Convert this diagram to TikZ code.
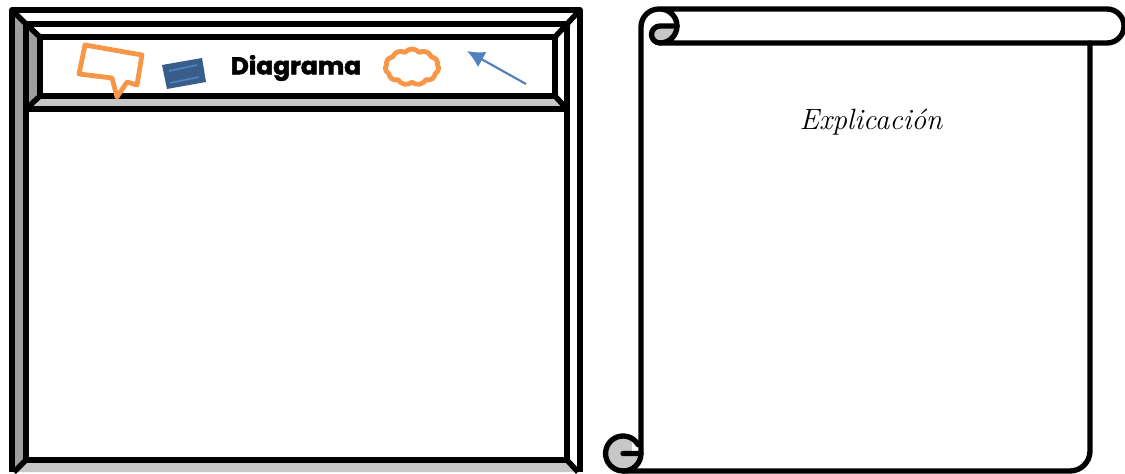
\documentclass[tikz,border=0pt]{standalone}
\usepackage{fontspec}
\usetikzlibrary{arrows.meta, shapes.symbols}
\newfontfamily\titlefont[BoldFeatures={FakeBold=2.4}, FakeStretch=1.04]{Poppins}
\colorlet{bevelDark}{black!38}
\colorlet{bevelLight}{black!22}
\definecolor{calloutOrange}{HTML}{F79646}
\definecolor{noteBlue}{HTML}{385D8A}
\definecolor{noteLine}{HTML}{4F81BD}
\tikzset{
  frameline/.style={line width=4.1pt, line join=round},
  scrollline/.style={line width=4pt, line join=round, line cap=round},
  orangeline/.style={draw=calloutOrange, line width=3.6pt, line join=round}
}
\begin{document}
\begin{tikzpicture}[x=0.75pt, y=-0.75pt]
  \useasboundingbox (0,0) rectangle (1125,474);

  % outer frame bevels
  \fill[bevelDark] (12,10) -- (26,24) -- (26,460) -- (14,472) -- cycle;
  \fill[bevelLight] (14,472) -- (26,460) -- (567,460) -- (578,472) -- cycle;
  \fill[bevelDark] (26,24) -- (40,37) -- (40,96) -- (26,109) -- cycle;
  \fill[bevelLight] (26,109) -- (40,96) -- (555,96) -- (567,109) -- cycle;
  \draw[frameline] (12,472) -- (12,10) -- (580,10) -- (580,472);
  \draw[frameline] (26,24) rectangle (567,460);
  \draw[frameline] (26,109) -- (567,109);
  \draw[frameline] (40,37) rectangle (555,96);
  \foreach \xa/\ya/\xb/\yb in {12/10/26/24, 580/10/567/24, 14/472/26/460, 578/472/567/460,
                               26/24/40/37, 567/24/555/37, 26/109/40/96, 567/109/555/96}{
    \draw[frameline] (\xa,\ya) -- (\xb,\yb);
  }

  % header shapes
  \draw[orangeline] (85,45) -- (142,55) -- (137,85) -- (127,82) -- (117,97) -- (112,78) -- (79,74) -- cycle;
  \fill[noteBlue] (162,65) -- (202,58) -- (206,82) -- (167,89) -- cycle;
  \draw[noteLine, line width=1.3pt] (169,71) -- (197,65);
  \draw[noteLine, line width=1.3pt] (170,83) -- (199,77);
  \node (title) at (296,68) {\titlefont\bfseries\fontsize{18}{18}\selectfont Diagrama};
  \node[cloud, cloud puffs=11, cloud puff arc=100, aspect=1.5, orangeline, minimum width=40pt,
        minimum height=27pt, inner sep=0pt] (cloudmark) at (412,67) {};
  \coordinate (arrowstart) at (526,84);
  \coordinate (arrowend) at (467,51);
  \draw[-{Latex[length=13pt, width=13pt]}, noteLine, line width=1.6pt] (arrowstart) -- (arrowend);

  % scroll
  \fill[bevelLight] (660,26) -- (677,26) arc (0:90:17) arc (-270:-90:8.5) -- cycle;
  \fill[bevelLight] (623,453.5) circle (17.5);
  \fill[white] (632,441) rectangle (639,451);
  \draw[scrollline] (623,453.5) -- (641,453.5) -- (641,27) arc (-180:-90:18) -- (1107,9)
    arc (-90:90:17) -- (660,43) arc (90:-90:17);
  \draw[scrollline] (677,26) -- (660,26) arc (-90:-270:8.5);
  \draw[scrollline] (638.2,444.75) arc (-30:-270:17.5) -- (1070,471) arc (90:0:20) -- (1090,43);
  \draw[scrollline] (641,453.5) arc (0:90:17.5);
  \node (caption) at (871,122) {\itshape\fontsize{22}{22}\selectfont Explicación};
\end{tikzpicture}
\end{document}
